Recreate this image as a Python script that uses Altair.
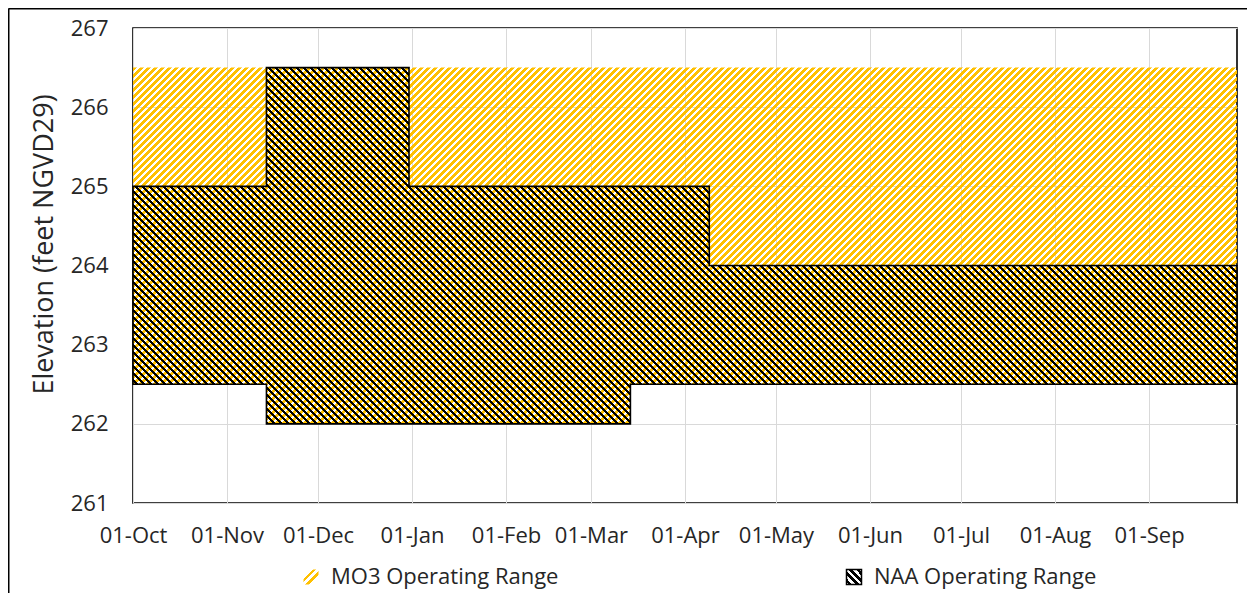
import math
import altair as alt
import pandas as pd

# ---------------- data ----------------
dates = ["2020-10-01", "2020-11-14", "2020-12-31", "2021-03-14", "2021-04-09", "2021-09-30"]
naa_upper = [265.0, 266.5, 265.0, 265.0, 264.0, 264.0]
naa_lower = [262.5, 262.0, 262.0, 262.5, 262.5, 262.5]
mo3_upper = [266.5, 266.5, 266.5, 266.5, 266.5, 266.5]
mo3_lower = [262.5, 262.0, 262.0, 262.5, 262.5, 262.5]
series_names = ["MO3 Operating Range", "NAA Operating Range"]
month_ticks = [(2020, 10), (2020, 11), (2020, 12), (2021, 1), (2021, 2), (2021, 3),
               (2021, 4), (2021, 5), (2021, 6), (2021, 7), (2021, 8), (2021, 9)]
y_ticks = [261, 262, 263, 264, 265, 266, 267]

# ---------------- layout / style ----------------
W, H = 1104, 475
Y0, Y1 = 261, 267
PAD_L, PAD_T, PAD_R, PAD_B = 125, 20, 10, 90
YELLOW = "#FFC000"
CLEAR = "rgba(255,255,255,0)"
FONT = "Open Sans"
TXT = "#262626"

py = H / (Y1 - Y0)
bw = W
bh = (max(mo3_upper) - min(mo3_lower)) * py


def stripes(color, frac, period, direction):
    """Hard-stop linear gradient giving 45 degree stripes over the area's bbox."""
    L = bw + bh
    k = L / (bw ** 2 + bh ** 2)
    if direction == "/":
        x1, y1, x2, y2 = 0, 0, k * bw, k * bh
    else:
        x1, y1, x2, y2 = 0, 1, k * bw, 1 - k * bh
    d = period / L
    stops = []
    i = 0
    while i * d < 1:
        a = i * d
        b = min(a + frac * d, 1)
        c = min((i + 1) * d, 1)
        stops += [
            alt.GradientStop(offset=round(a, 6), color=color),
            alt.GradientStop(offset=round(b, 6), color=color),
            alt.GradientStop(offset=round(b, 6), color=CLEAR),
            alt.GradientStop(offset=round(c, 6), color=CLEAR),
        ]
        i += 1
    return alt.LinearGradient(gradient="linear", x1=x1, y1=y1, x2=x2, y2=y2, stops=stops)


def js_grad(x1, y1, x2, y2, bands, color, bg):
    parts = []
    for a, b in bands:
        parts += [(a, bg), (a, color), (b, color), (b, bg)]
    parts = [(0, bg)] + parts + [(1, bg)]
    st = ",".join("{offset:%g,color:'%s'}" % (o, c) for o, c in parts)
    return "{gradient:'linear',x1:%g,y1:%g,x2:%g,y2:%g,stops:[%s]}" % (x1, y1, x2, y2, st)


mo3_sym = js_grad(0, 0, 1, 1, [(0.30, 0.43), (0.56, 0.69)], YELLOW, CLEAR)
naa_sym = js_grad(0, 1, 1, 0, [(0.08, 0.2), (0.32, 0.44), (0.56, 0.68), (0.8, 0.92)], "#000000", "#ffffff")

df = pd.DataFrame({
    "date": dates,
    "naa_upper": naa_upper,
    "naa_lower": naa_lower,
    "mo3_upper": mo3_upper,
    "mo3_lower": mo3_lower,
})
leg_df = pd.DataFrame({"date": [dates[0]] * 2, "series": series_names, "y": [Y0 - 1] * 2})

x_enc = alt.X(
    "date:T",
    title=None,
    scale=alt.Scale(type="utc", domain=[alt.DateTime(year=2020, month=10, date=1, utc=True),
                                        alt.DateTime(year=2021, month=9, date=30, utc=True)]),
    axis=alt.Axis(
        values=[alt.DateTime(year=y, month=m, date=1, utc=True) for y, m in month_ticks],
        format="%d-%b", ticks=False, tickSize=0, domain=False, labelFlush=False,
        labelOverlap=False, labelPadding=22, grid=True, gridColor="#D9D9D9",
    ),
)
y_scale = alt.Scale(domain=[Y0, Y1], nice=False, zero=False)
y_axis = alt.Axis(values=y_ticks, format="d", ticks=False, tickSize=0, domain=False,
                  labelPadding=25, grid=True, gridColor="#D9D9D9",
                  titleFontSize=27, titleFontWeight="normal", titleX=-75, titleY=216,
                  titleAngle=270, titleAlign="center", titleBaseline="bottom")
Y_TITLE = "Elevation (feet NGVD29)"

frame_left = alt.Chart(alt.Data(values=[{}])).mark_rule(
    color="black", strokeWidth=2
).encode(
    x=alt.value(-PAD_L + 0.5), y=alt.value(-PAD_T + 0.5), y2=alt.value(H + PAD_B)
)
frame_top = alt.Chart(alt.Data(values=[{}])).mark_rule(
    color="black", strokeWidth=2
).encode(
    x=alt.value(-PAD_L + 0.5), x2=alt.value(W + PAD_R), y=alt.value(-PAD_T + 0.5)
)

legend_def = alt.Legend(
    title=None, orient="none", legendX=167, legendY=538, direction="horizontal",
    columns=2, columnPadding=284, symbolType="square", symbolSize=225,
    symbolStrokeWidth=1.5, symbolOpacity=1,
    labelFontSize=22, labelFont=FONT, labelColor=TXT, labelOffset=9,
    labelLimit=500, padding=0,
)

legend_layer = alt.Chart(leg_df).mark_square(clip=True, filled=True, size=1).encode(
    x=x_enc,
    y=alt.Y("y:Q", scale=y_scale, axis=y_axis, title=Y_TITLE),
    fill=alt.Fill(
        "series:N",
        scale=alt.Scale(domain=series_names,
                        range=[alt.ExprRef(expr=mo3_sym), alt.ExprRef(expr=naa_sym)]),
        legend=legend_def,
    ),
    stroke=alt.Stroke(
        "series:N",
        scale=alt.Scale(domain=series_names, range=["rgba(0,0,0,0)", "#000000"]),
        legend=legend_def,
    ),
)

mo3 = alt.Chart(df).mark_area(
    interpolate="step-after", fill=stripes(YELLOW, 0.5, 7.0, "/"), strokeWidth=0
).encode(
    x=x_enc,
    y=alt.Y("mo3_upper:Q", scale=y_scale, axis=y_axis, title=Y_TITLE),
    y2="mo3_lower:Q",
)

naa = alt.Chart(df).mark_area(
    interpolate="step-after", fill=stripes("#000000", 0.45, 7.0, "\\"),
    stroke="#000000", strokeWidth=1.6,
).encode(
    x=x_enc,
    y=alt.Y("naa_upper:Q", scale=y_scale, axis=y_axis, title=Y_TITLE),
    y2="naa_lower:Q",
)

chart = alt.layer(frame_left, frame_top, legend_layer, mo3, naa).properties(
    width=W, height=H,
    autosize=alt.AutoSizeParams(type="none"),
    padding={"left": PAD_L, "top": PAD_T, "right": PAD_R, "bottom": PAD_B},
).configure(
    font=FONT,
).configure_axis(
    labelFont=FONT, labelFontSize=22, labelColor=TXT, titleFont=FONT, titleColor=TXT,
).configure_view(
    stroke="#000000", strokeWidth=1.6,
)

chart.save("out.html", embed_options={"renderer": "svg", "actions": False})
